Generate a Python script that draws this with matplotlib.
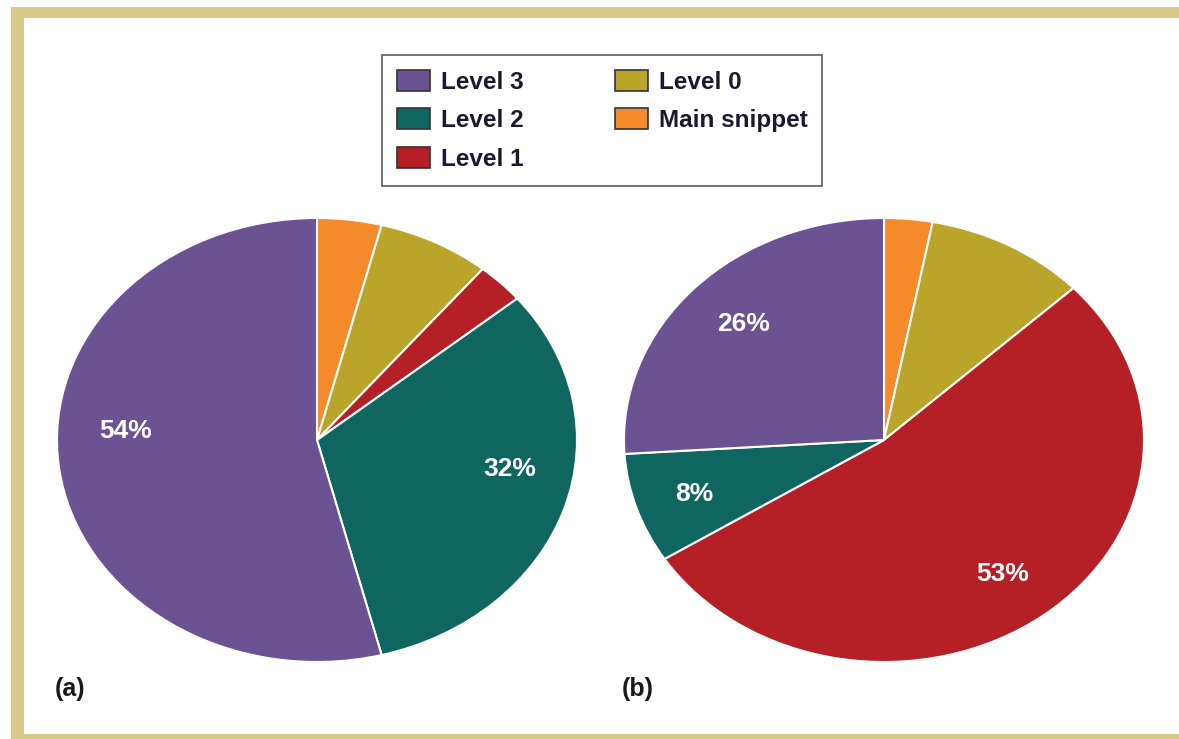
import matplotlib
matplotlib.use("Agg")
import matplotlib.pyplot as plt
from matplotlib.patches import Rectangle, Patch

plt.rcParams['font.family'] = ['Liberation Sans', 'DejaVu Sans']

categories = ["Main snippet", "Level 0", "Level 1", "Level 2", "Level 3"]
values_a = [4, 7, 3, 32, 54]
values_b = [3, 10, 53, 8, 26]
colors = ["#F48A2A", "#BBA42A", "#B52027", "#0F6660", "#6A5293"]
show_pct_a = [False, False, False, True, True]
show_pct_b = [False, False, True, True, True]
panel_labels = ["(a)", "(b)"]
legend_order = ["Level 3", "Level 2", "Level 1", "Level 0", "Main snippet"]

# label placement (pie-unit coordinates) for the visible percentages
pct_pos_a = [None, None, None, (0.742, -0.131), (-0.738, 0.041)]
pct_pos_b = [None, None, (0.458, -0.604), (-0.731, -0.243), (-0.542, 0.523)]

W, H = 1179, 739
fig = plt.figure(figsize=(W / 100, H / 100), dpi=100)
fig.patch.set_facecolor("white")

def fx(px):
    return px / W

def fy(py):
    return 1 - py / H

border = "#D9CA8C"
fig.patches.append(Rectangle((fx(11), fy(18)), fx(W - 11), 11 / H, transform=fig.transFigure,
                             facecolor=border, edgecolor="none", zorder=0))
fig.patches.append(Rectangle((fx(11), fy(739)), 13 / W, (739 - 7) / H, transform=fig.transFigure,
                             facecolor=border, edgecolor="none", zorder=0))
fig.patches.append(Rectangle((fx(11), fy(739)), fx(W - 11), 5.5 / H, transform=fig.transFigure,
                             facecolor=border, edgecolor="none", zorder=0))

centers = [(317, 440), (884, 440)]
rx, ry = 260, 222
for (cx, cy), vals, shows, poss, lab in zip(centers, [values_a, values_b],
                                             [show_pct_a, show_pct_b],
                                             [pct_pos_a, pct_pos_b], panel_labels):
    ax = fig.add_axes([fx(cx - rx), fy(cy + ry), 2 * rx / W, 2 * ry / H])
    wedges, texts, autotexts = ax.pie(
        vals, colors=colors, startangle=90, counterclock=False,
        autopct=lambda p: f"{round(p):d}%", pctdistance=0.75,
        wedgeprops=dict(edgecolor="white", linewidth=1.5),
        textprops=dict(color="white", fontsize=19, fontweight="bold"))
    for t, s, pos in zip(autotexts, shows, poss):
        t.set_visible(s)
        if s and pos is not None:
            t.set_position(pos)
    ax.set_aspect("auto")
    ax.set_xlim(-1, 1)
    ax.set_ylim(-1, 1)
    ax.axis("off")
    fig.text(fx(cx - 262), fy(689), lab, fontsize=18, fontweight="bold",
             color="#1a1a1a", ha="left", va="center")

handles = [Patch(facecolor=colors[categories.index(n)], edgecolor="#333333", linewidth=1.2)
           for n in legend_order]
leg = fig.legend(handles, legend_order, ncol=2, loc="upper center",
                 bbox_to_anchor=(fx(602), fy(55)), frameon=True, fancybox=False,
                 edgecolor="#333333",
                 prop=dict(weight="bold", size=17.5),
                 handlelength=1.36, handleheight=0.95, handletextpad=0.45,
                 labelspacing=0.6, columnspacing=3.75, borderpad=0.62, borderaxespad=0)
leg.get_frame().set_linewidth(1.2)
for t in leg.get_texts():
    t.set_color("#1a1a2e")

fig.savefig("out.png", dpi=100)
